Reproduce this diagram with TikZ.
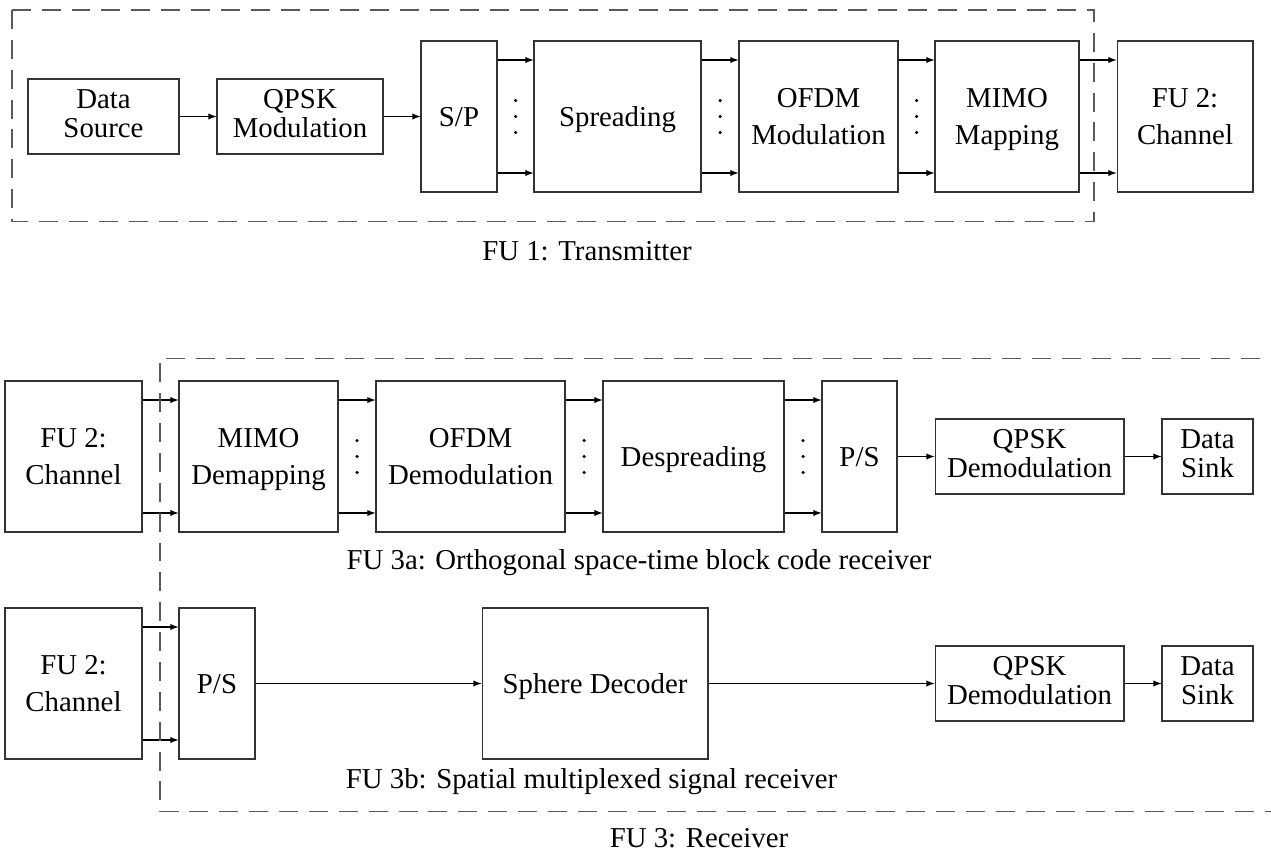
\documentclass[tikz,border=0pt]{standalone}
\usepackage{fontspec}
\setmainfont{Liberation Serif}
\usetikzlibrary{calc}
\newcommand{\dotcol}[1]{\fill ([yshift=0.32cm]#1) circle (0.035cm) (#1) circle (0.035cm) ([yshift=-0.32cm]#1) circle (0.035cm);}
\begin{document}
\begin{tikzpicture}[x=0.02cm,y=-0.02cm]
\tikzstyle{block} = [rectangle,draw=black!80,line width=0.6pt,align=center,inner sep=0pt]
\tikzstyle{lowbox} = [block,minimum height=1.5cm,text depth=3.4pt,font=\fontsize{16.4}{16.5}\selectfont]
\tikzstyle{highbox} = [block,minimum height=3.02cm,text depth=-2pt,font=\fontsize{16.4}{21}\selectfont]
\tikzstyle{edge} = [-latex,line width=0.6pt]
\tikzstyle{dashbox} = [draw=black!65,line width=0.6pt,dash pattern=on 10.8pt off 6.2pt]
\tikzstyle{fulabel} = [inner sep=0pt,font=\fontsize{16.4}{16.8}\selectfont]
\useasboundingbox (0,0) rectangle (1271,855);
% transmitter
\node[lowbox,minimum width=3.02cm] (src) at (103.5,116.5) {Data\\Source};
\node[lowbox,minimum width=3.32cm] (qpsk) at (300,116.5) {QPSK\\Modulation};
\node[highbox,minimum width=1.52cm] (sp) at (459,116.5) {S/P};
\node[highbox,minimum width=3.34cm] (spread) at (617.5,116.5) {Spreading};
\node[highbox,minimum width=3.18cm] (ofdm) at (818.5,116.5) {OFDM\\Modulation};
\node[highbox,minimum width=2.88cm] (mimo) at (1007,116.5) {MIMO\\Mapping};
\node[highbox,minimum width=2.72cm] (chan) at (1185,116.5) {FU 2:\\Channel};
\coordinate (dt1) at ($(sp.east)!0.5!(spread.west)$);
\coordinate (dt2) at ($(spread.east)!0.5!(ofdm.west)$);
\coordinate (dt3) at ($(ofdm.east)!0.5!(mimo.west)$);
\dotcol{dt1} \dotcol{dt2} \dotcol{dt3}
\draw[edge] (src) -- (qpsk);
\draw[edge] (qpsk) -- (sp);
\draw[edge] ([yshift=1.13cm]sp.east) -- ([yshift=1.13cm]spread.west);
\draw[edge] ([yshift=-1.13cm]sp.east) -- ([yshift=-1.13cm]spread.west);
\draw[edge] ([yshift=1.13cm]spread.east) -- ([yshift=1.13cm]ofdm.west);
\draw[edge] ([yshift=-1.13cm]spread.east) -- ([yshift=-1.13cm]ofdm.west);
\draw[edge] ([yshift=1.13cm]ofdm.east) -- ([yshift=1.13cm]mimo.west);
\draw[edge] ([yshift=-1.13cm]ofdm.east) -- ([yshift=-1.13cm]mimo.west);
\draw[edge] ([yshift=1.13cm]mimo.east) -- ([yshift=1.13cm]chan.west);
\draw[edge] ([yshift=-1.13cm]mimo.east) -- ([yshift=-1.13cm]chan.west);
\draw[dashbox] (12,10) rectangle (1094,221.7);
\node[fulabel] (fu1) at (587,251) {FU 1: Transmitter};
% receiver, OSTBC
\node[highbox,minimum width=2.74cm] (chana) at (73.5,456.5) {FU 2:\\Channel};
\node[highbox,minimum width=3.18cm] (demap) at (258.5,456.5) {MIMO\\Demapping};
\node[highbox,minimum width=3.78cm] (ofdmd) at (470.5,456.5) {OFDM\\Demodulation};
\node[highbox,minimum width=3.62cm] (despread) at (693.5,456.5) {Despreading};
\node[highbox,minimum width=1.5cm] (psa) at (859.5,456.5) {P/S};
\node[lowbox,minimum width=3.78cm] (qpskda) at (1029.5,456.5) {QPSK\\Demodulation};
\node[lowbox,minimum width=1.82cm] (sinka) at (1207.5,456.5) {Data\\Sink};
\coordinate (dt4) at ($(demap.east)!0.5!(ofdmd.west)$);
\coordinate (dt5) at ($(ofdmd.east)!0.5!(despread.west)$);
\coordinate (dt6) at ($(despread.east)!0.5!(psa.west)$);
\dotcol{dt4} \dotcol{dt5} \dotcol{dt6}
\draw[edge] ([yshift=1.13cm]chana.east) -- ([yshift=1.13cm]demap.west);
\draw[edge] ([yshift=-1.13cm]chana.east) -- ([yshift=-1.13cm]demap.west);
\draw[edge] ([yshift=1.13cm]demap.east) -- ([yshift=1.13cm]ofdmd.west);
\draw[edge] ([yshift=-1.13cm]demap.east) -- ([yshift=-1.13cm]ofdmd.west);
\draw[edge] ([yshift=1.13cm]ofdmd.east) -- ([yshift=1.13cm]despread.west);
\draw[edge] ([yshift=-1.13cm]ofdmd.east) -- ([yshift=-1.13cm]despread.west);
\draw[edge] ([yshift=1.13cm]despread.east) -- ([yshift=1.13cm]psa.west);
\draw[edge] ([yshift=-1.13cm]despread.east) -- ([yshift=-1.13cm]psa.west);
\draw[edge] (psa) -- (qpskda);
\draw[edge] (qpskda) -- (sinka);
\node[fulabel] (fu3a) at (639,563) {FU 3a: Orthogonal space-time block code receiver};
% receiver, spatial multiplexing
\node[highbox,minimum width=2.74cm] (chanb) at (73.5,683.5) {FU 2:\\Channel};
\node[highbox,minimum width=1.52cm] (psb) at (217,683.5) {P/S};
\node[highbox,minimum width=4.52cm] (sphere) at (595,683.5) {Sphere Decoder};
\node[lowbox,minimum width=3.78cm] (qpskdb) at (1029.5,683.5) {QPSK\\Demodulation};
\node[lowbox,minimum width=1.82cm] (sinkb) at (1207.5,683.5) {Data\\Sink};
\draw[edge] ([yshift=1.13cm]chanb.east) -- ([yshift=1.13cm]psb.west);
\draw[edge] ([yshift=-1.13cm]chanb.east) -- ([yshift=-1.13cm]psb.west);
\draw[edge] (psb) -- (sphere);
\draw[edge] (sphere) -- (qpskdb);
\draw[edge] (qpskdb) -- (sinkb);
\node[fulabel] (fu3b) at (591.5,782) {FU 3b: Spatial multiplexed signal receiver};
\draw[dashbox] (1290,358.3) -- (160,358.3) -- (160,811.7) -- (1290,811.7);
\node[fulabel] (fu3) at (699,838) {FU 3: Receiver};
\end{tikzpicture}
\end{document}
